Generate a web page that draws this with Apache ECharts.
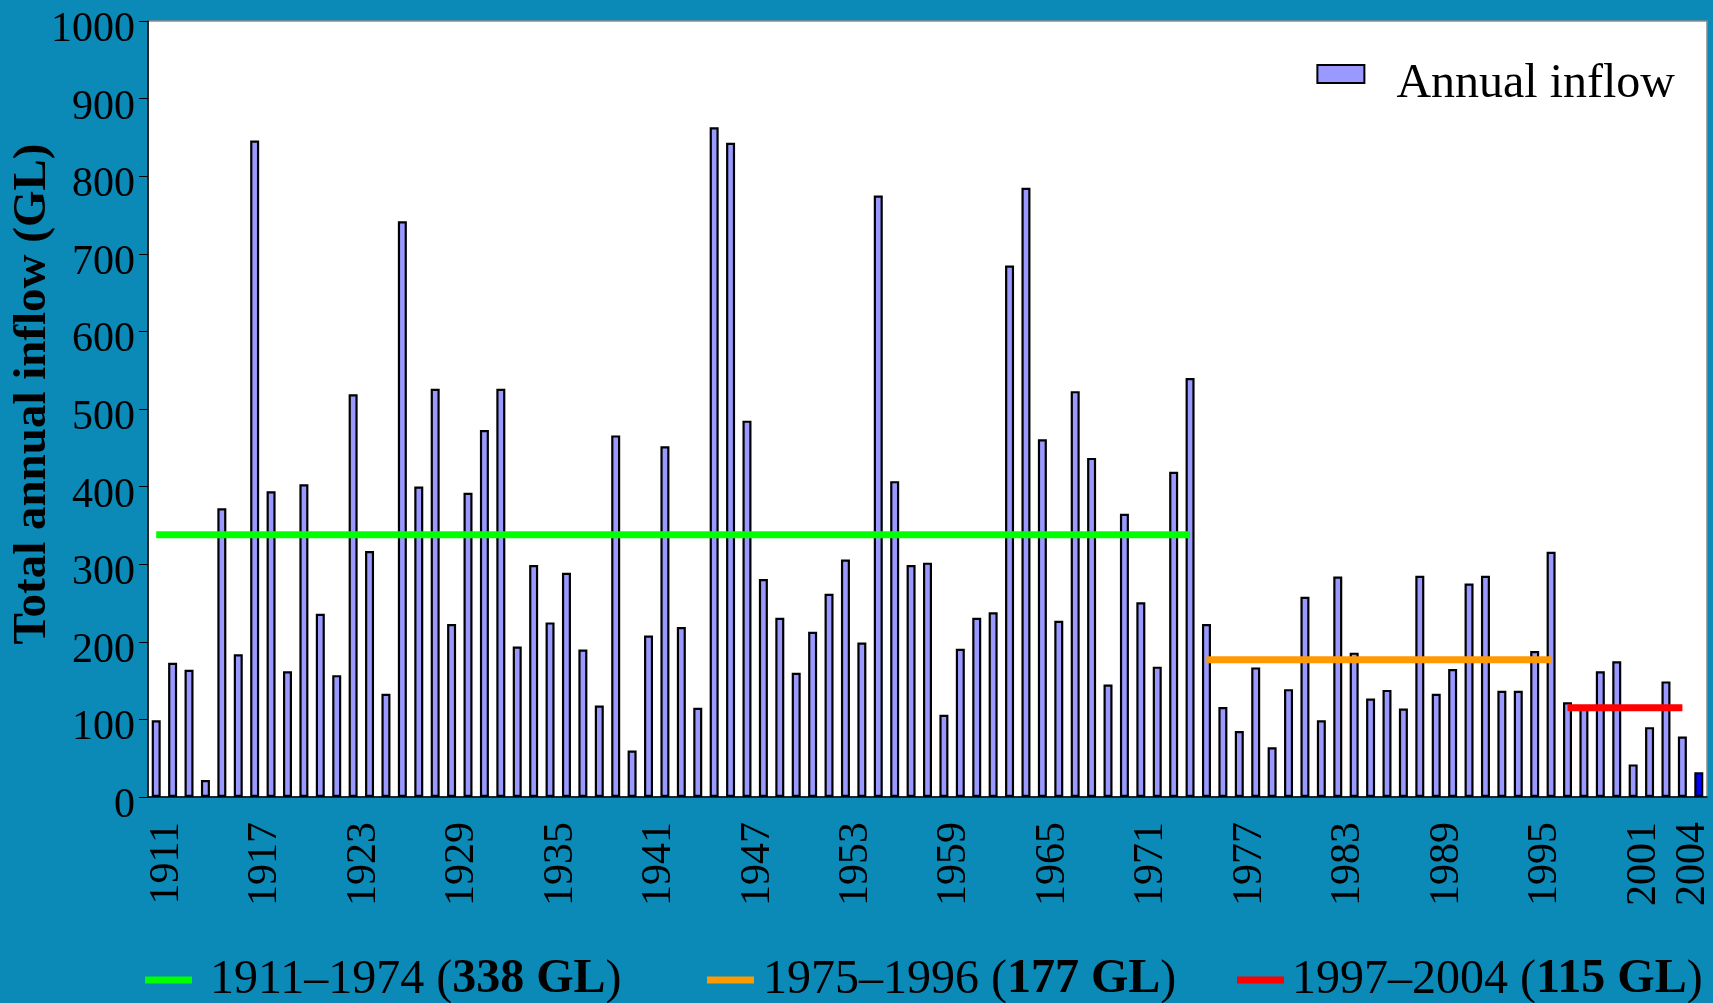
<!DOCTYPE html>
<html>
<head>
<meta charset="utf-8">
<script src="https://cdn.jsdelivr.net/npm/echarts@6/dist/echarts.min.js"></script>
<style>
  html, body { margin: 0; padding: 0; background: #0b89b7; }
  #main { width: 1713px; height: 1003px; }
</style>
</head>
<body>
<div id="main"></div>
<script>
// years 1911..2005, last one is a part year (drawn darker)
const years = []
for (let y = 1911; y <= 2005; y++) years.push(String(y))

const inflow = [
  99, 173, 164, 22, 372, 184, 846, 394, 162, 403,
  236, 157, 519, 317, 133, 742, 400, 526, 223, 392,
  473, 526, 194, 299, 225, 289, 190, 118, 466, 60,
  208, 452, 219, 115, 863, 843, 485, 281, 231, 160,
  213, 262, 306, 199, 775, 407, 299, 302, 106, 191,
  231, 238, 685, 785, 461, 227, 523, 437, 145, 365,
  251, 168, 419, 540, 223, 116, 85, 167, 64, 139,
  258, 99, 284, 186, 127, 138, 114, 285, 133, 165,
  275, 285, 137, 137, 188, 316, 122, 115, 162, 175,
  42, 90, 149, 78, 32
]
const partYear = '2005'

// period averages (GL)
const periodStart = ['1911', '1975', '1997']
const periodEnd = ['1974', '1996', '2004']
const periodMean = [338, 177, 115]
const periodColor = ['#00ff00', '#ff9900', '#ff0000']

const yTicks = [0, 1000, 100] // min, max, step

const font = "'Liberation Serif', 'Times New Roman', serif"

const chart = echarts.init(document.getElementById('main'))

const barData = inflow.map((v, i) =>
  years[i] === partYear ? { value: v, itemStyle: { color: '#0000ff' } } : v
)

const periodSeries = periodMean.map((m, k) => {
  const a = years.indexOf(periodStart[k])
  const b = years.indexOf(periodEnd[k])
  return {
    name: periodStart[k] + '–' + periodEnd[k] + ' (' + m + ' GL)',
    type: 'line',
    data: years.map((y, i) => (i >= a && i <= b ? m : '-')),
    symbol: 'none',
    color: periodColor[k],
    lineStyle: { color: periodColor[k], width: 7 },
    z: 5,
    animation: false
  }
})

const legendLeft = [140, 702, 1232]
const legendPad = [13, 4, 3]

const bottomLegends = periodSeries.map((s, k) => ({
  data: [s.name],
  left: legendLeft[k],
  top: 951,
  icon: 'rect',
  itemWidth: 47,
  itemHeight: 7,
  itemStyle: { borderWidth: 0 },
  formatter: name => name.replace(/\((\d+ GL)\)/, '({b|$1})'),
  textStyle: {
    fontFamily: font,
    fontSize: 48,
    lineHeight: 48,
    color: '#000',
    padding: [0, 0, 0, legendPad[k]],
    rich: {
      b: { fontFamily: font, fontSize: 48, lineHeight: 48, fontWeight: 'bold', color: '#000' }
    }
  }
}))

chart.setOption({
  backgroundColor: '#0b89b7',
  animation: false,
  grid: {
    left: 148,
    right: 6,
    top: 21,
    bottom: 206,
    outerBoundsMode: 'none',
    show: true,
    backgroundColor: '#ffffff',
    borderColor: '#8a8a8a',
    borderWidth: 1.5
  },
  legend: [
    {
      data: ['Annual inflow'],
      right: 33,
      top: 55,
      // box sits in the upper part of the icon area, a bit above the text
      icon: 'path://M0,0H47V18H0Z M0,38',
      itemWidth: 47,
      itemHeight: 38,
      textStyle: {
        fontFamily: font,
        fontSize: 48,
        lineHeight: 48,
        color: '#000',
        padding: [0, 0, 0, 27]
      }
    },
    ...bottomLegends
  ],
  xAxis: {
    type: 'category',
    data: years,
    axisLine: { lineStyle: { color: '#000', width: 1.5 } },
    axisTick: { interval: 0, length: 8, lineStyle: { color: '#000' } },
    axisLabel: {
      interval: (i, v) => i % 6 === 0 || v === '2004',
      rotate: 90,
      margin: 25,
      fontFamily: font,
      fontSize: 42,
      color: '#000',
      verticalAlign: 'top',
      lineHeight: 21
    }
  },
  yAxis: {
    type: 'value',
    min: yTicks[0],
    max: yTicks[1],
    interval: yTicks[2],
    name: 'Total annual inflow (GL)',
    nameLocation: 'middle',
    nameGap: 92,
    nameMoveOverlap: false,
    nameTextStyle: {
      fontFamily: font,
      fontSize: 47,
      lineHeight: 46,
      fontWeight: 'bold',
      color: '#000',
      padding: [0, 0, 0, 30]
    },
    splitLine: { show: false },
    axisLine: { show: true, lineStyle: { color: '#000', width: 1.5 } },
    axisTick: { show: true, length: 9, lineStyle: { color: '#000' } },
    axisLabel: {
      margin: 13,
      fontFamily: font,
      fontSize: 42,
      color: '#000',
      verticalAlign: 'top',
      lineHeight: 18,
      formatter: v => String(v)
    }
  },
  series: [
    {
      name: 'Annual inflow',
      type: 'bar',
      data: barData,
      barWidth: 9,
      itemStyle: { color: '#9999ff', borderColor: '#000', borderWidth: 2.2 }
    },
    ...periodSeries
  ]
})
</script>
</body>
</html>
